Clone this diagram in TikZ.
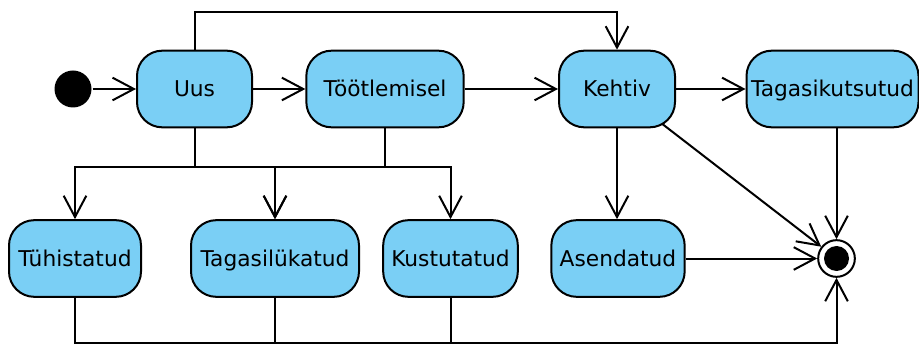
\documentclass[tikz,border=0pt]{standalone}
\usepackage{fontspec}
\setmainfont{DejaVu Sans}
\usetikzlibrary{arrows.meta,backgrounds}
\definecolor{stateblue}{RGB}{122,207,245}

\begin{document}
\begin{tikzpicture}[
    x=0.75pt, y=-0.75pt,
    line width=1.5pt,
    font=\fontsize{16.3}{19}\selectfont,
    state/.style={rectangle, rounded corners=19pt, draw=black, fill=stateblue, align=center, minimum height=57.5pt, inner xsep=3pt, text height=11.9pt, text depth=0pt},
    arrow/.style={-{Straight Barb[length=16pt, width=17pt]}, line width=1.5pt}
]
\useasboundingbox (0,0) rectangle (919,345);
\node[circle, fill=black, minimum size=27.75pt, inner sep=0pt] (start) at (73,89) {};
\node[state, minimum width=86.25pt] (uus) at (194.5,89) {Uus};
\node[state, minimum width=118pt] (tootl) at (385,89) {Töötlemisel};
\node[state, minimum width=87pt] (kehtiv) at (617,89) {Kehtiv};
\node[state, minimum width=129pt] (tagasik) at (832.5,89) {Tagasikutsutud};
\node[state, minimum width=99pt] (tuhist) at (75,258.5) {Tühistatud};
\node[state, minimum width=126pt] (tagasil) at (275,258.5) {Tagasilükatud};
\node[state, minimum width=101pt] (kustut) at (450.5,258.5) {Kustutatud};
\node[state, minimum width=100pt] (asend) at (618,258.5) {Asendatud};
\node[circle, draw=black, fill=white, minimum size=27.5pt, inner sep=0pt] (end) at (836.5,258.5) {};
\node[circle, fill=black, minimum size=18.75pt, inner sep=0pt] (enddot) at (end) {};
\coordinate (lowbus) at (836.5,343);

\draw[arrow] (start) -- (uus);
\draw[arrow] (uus) -- (tootl);
\draw[arrow] (tootl) -- (kehtiv);
\draw[arrow] (kehtiv) -- (tagasik);
\draw[arrow] (uus.north) -- ++(0,-38) -| (kehtiv);
\draw[arrow] (uus.south) -- ++(0,39) -| (tuhist);
\draw[arrow] (uus.south) -- ++(0,39) -| (tagasil);
\draw[arrow] (tootl.south) -- ++(0,39) -| (tagasil);
\draw[arrow] (tootl.south) -- ++(0,39) -| (kustut);
\draw[arrow] (kehtiv.south) -- (kehtiv.south |- asend.north);
\draw[arrow] (asend) -- (end);
\draw[arrow] (tagasik.south -| end) -- (end);
\begin{scope}[on background layer]
  \draw[arrow] (kehtiv.center) -- (end);
\end{scope}
\draw[arrow] (tuhist) |- (lowbus) -- (end);
\draw (tagasil.south) -- (tagasil.south |- lowbus);
\draw (kustut.south) -- (kustut.south |- lowbus);
\end{tikzpicture}
\end{document}
